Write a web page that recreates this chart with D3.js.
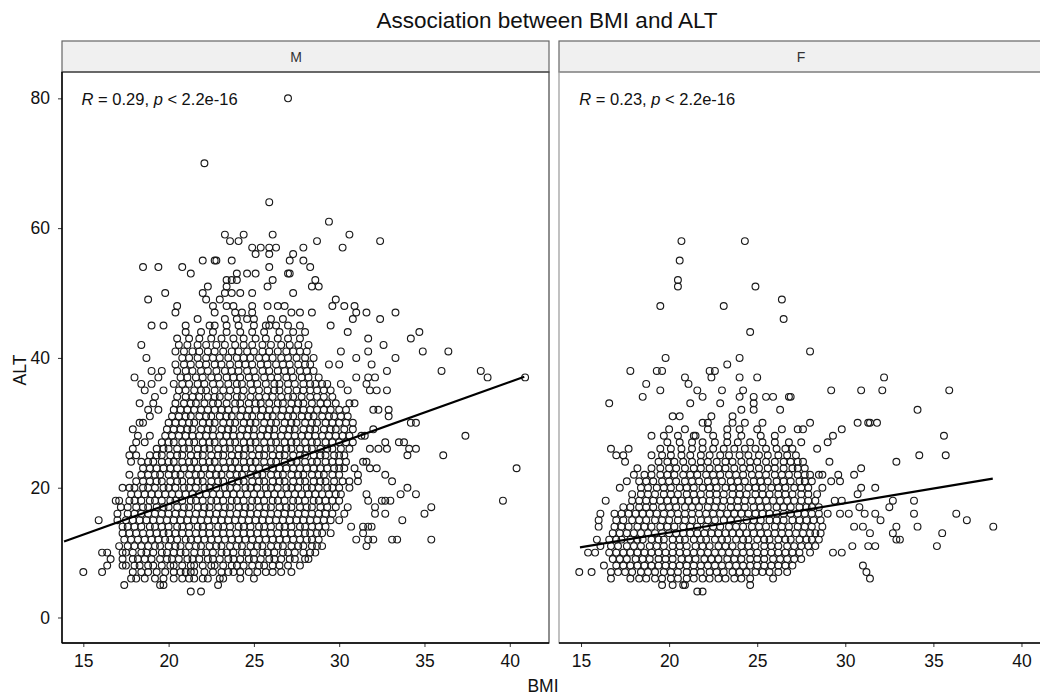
<!DOCTYPE html>
<html>
<head>
<meta charset="utf-8">
<script src="https://cdn.jsdelivr.net/npm/d3@7"></script>
<style>
  body { margin: 0; background: #fff; }
  svg { display: block; font-family: "Liberation Sans", Arial, sans-serif; }
</style>
</head>
<body>
<svg id="chart" width="1040" height="697"></svg>
<script>
// facets, ticks and fitted lines
const panels = ['M', 'F'];
const corrR = ['0.29', '0.23'];
const corrP = ['2.2e-16', '2.2e-16'];
const xTicks = [15, 20, 25, 30, 35, 40];
const yTicks = [0, 20, 40, 60, 80];
// regression line end points [bmi, alt]
const fitM = [[13.87, 11.7], [40.85, 37.1]];
const fitF = [[14.94, 10.8], [38.37, 21.4]];

// points: [ALT, "BMI values on that ALT row"]
const maleRows = [
  [4, "21.3 21.9"],
  [5, "17.4 19.5 19.7 22.9"],
  [6, "17.8 18.1 18.6 19.2 19.7 20.3 20.8 21.2 21.5 22.0 22.3 23.0 23.2 24.2 25.0"],
  [7, "15.0 16.1 17.9 18.4 18.8 19.3 19.8 20.3 20.7 21.0 21.3 21.5 22.1 22.6 23.1 23.5 23.8 24.2 24.7 25.2 25.7 26.1 26.6 27.2"],
  [8, "16.4 17.3 17.5 18.0 18.3 18.8 19.1 19.6 20.1 20.3 20.8 21.3 21.5 22.0 22.5 22.7 23.2 23.7 24.0 24.4 24.9 25.3 25.6 26.1 26.5 27.0 27.7"],
  [9, "16.6 17.3 17.9 18.2 18.6 19.0 19.5 19.9 20.2 20.6 21.1 21.4 21.8 22.3 22.6 23.0 23.5 23.8 24.2 24.7 25.0 25.4 25.9 26.2 26.6 27.1 27.4 28.0 28.2"],
  [10, "16.1 16.4 17.3 17.5 17.9 18.4 18.7 19.1 19.6 19.9 20.3 20.7 21.0 21.5 21.9 22.2 22.6 23.1 23.4 23.8 24.3 24.6 25.0 25.5 25.8 26.2 26.7 27.0 27.4 27.9 28.3 28.6"],
  [11, "17.1 17.6 18.0 18.4 18.8 19.2 19.5 20.0 20.4 20.7 21.2 21.6 21.9 22.4 22.8 23.1 23.6 24.0 24.3 24.8 25.2 25.5 26.0 26.4 26.7 27.2 27.6 27.9 28.4 28.7 29.0 31.6"],
  [12, "17.4 17.8 18.2 18.6 19.0 19.4 19.8 20.1 20.5 21.0 21.3 21.7 22.1 22.5 22.9 23.3 23.7 24.1 24.5 24.9 25.3 25.7 26.1 26.5 26.9 27.3 27.7 28.1 28.4 28.8 31.0 31.7 32.0 33.1 33.4 35.4"],
  [13, "17.3 17.7 18.1 18.5 18.9 19.3 19.7 20.0 20.4 20.8 21.2 21.6 22.0 22.4 22.8 23.2 23.6 24.0 24.4 24.8 25.2 25.6 26.0 26.4 26.8 27.2 27.6 28.0 28.3 28.7 29.0 29.5 31.4"],
  [14, "17.3 17.6 18.0 18.4 18.9 19.2 19.6 20.0 20.5 20.8 21.2 21.7 22.0 22.4 22.9 23.2 23.6 24.1 24.4 24.8 25.3 25.6 26.0 26.5 26.8 27.2 27.7 28.0 28.4 28.8 29.2 30.7 31.4 31.7 31.9"],
  [15, "15.9 17.0 17.5 17.9 18.3 18.7 19.1 19.5 19.9 20.3 20.7 21.1 21.5 21.9 22.3 22.7 23.1 23.5 23.9 24.3 24.7 25.1 25.5 25.9 26.3 26.7 27.1 27.5 27.9 28.3 28.7 29.1 29.5 30.0 33.7"],
  [16, "17.0 17.6 18.0 18.4 18.8 19.2 19.6 20.0 20.4 20.8 21.2 21.6 22.0 22.4 22.8 23.2 23.6 24.0 24.4 24.8 25.2 25.6 26.0 26.4 26.8 27.2 27.6 28.0 28.4 28.8 29.2 29.6 30.3 32.1 32.7 35.0"],
  [17, "17.2 17.6 18.1 18.5 18.8 19.3 19.7 20.0 20.5 20.9 21.2 21.7 22.1 22.4 22.9 23.3 23.6 24.1 24.5 24.8 25.3 25.7 26.0 26.5 26.9 27.2 27.7 28.1 28.4 28.9 29.3 29.8 30.5 32.1 35.4"],
  [18, "16.9 17.1 17.7 18.0 18.4 18.9 19.2 19.6 20.1 20.4 20.8 21.3 21.6 22.0 22.5 22.8 23.2 23.7 24.0 24.4 24.9 25.2 25.6 26.1 26.4 26.8 27.3 27.6 28.0 28.5 28.8 29.2 29.6 30.0 31.7 32.5 32.7 33.0 39.6"],
  [19, "17.8 18.2 18.6 19.0 19.4 19.8 20.2 20.6 21.0 21.4 21.8 22.2 22.6 23.0 23.4 23.8 24.2 24.6 25.0 25.4 25.8 26.2 26.6 27.0 27.4 27.8 28.2 28.6 29.0 29.4 29.8 30.1 31.6 33.6 34.5"],
  [20, "17.3 17.7 18.0 18.5 18.8 19.2 19.7 20.0 20.4 20.9 21.2 21.6 22.1 22.4 22.8 23.3 23.6 24.0 24.5 24.8 25.2 25.7 26.0 26.4 26.9 27.2 27.6 28.1 28.4 28.8 29.3 29.6 30.0 30.6 34.0"],
  [21, "18.1 18.5 18.9 19.3 19.6 20.1 20.5 20.8 21.3 21.7 22.0 22.5 22.9 23.2 23.7 24.1 24.4 24.9 25.3 25.6 26.1 26.5 26.8 27.3 27.7 28.0 28.5 28.9 29.2 29.7 30.2 30.6 31.1 33.1"],
  [22, "17.7 18.4 18.8 19.2 19.5 20.0 20.4 20.7 21.2 21.6 21.9 22.4 22.8 23.1 23.6 24.0 24.3 24.8 25.2 25.5 26.0 26.4 26.7 27.2 27.6 27.9 28.4 28.8 29.1 29.6 30.0 31.1 32.7"],
  [23, "18.5 18.9 19.3 19.7 20.1 20.5 20.9 21.3 21.7 22.1 22.5 22.9 23.3 23.7 24.1 24.5 24.9 25.3 25.7 26.1 26.5 26.9 27.3 27.7 28.1 28.5 28.9 29.3 29.7 30.0 30.3 30.9 31.8 32.2 40.4"],
  [24, "17.8 18.4 18.8 19.1 19.6 20.0 20.3 20.8 21.2 21.5 22.0 22.4 22.7 23.2 23.6 23.9 24.4 24.8 25.1 25.6 26.0 26.3 26.8 27.2 27.5 28.0 28.4 28.7 29.2 29.6 30.0 30.4 31.4 31.6"],
  [25, "17.7 18.1 18.9 19.3 19.6 20.1 20.5 20.8 21.3 21.7 22.0 22.5 22.9 23.2 23.7 24.1 24.4 24.9 25.3 25.6 26.1 26.5 26.8 27.3 27.7 28.0 28.5 28.9 29.2 29.7 30.0 30.3 34.0 36.1"],
  [26, "17.9 19.3 19.7 20.0 20.5 20.9 21.2 21.7 22.1 22.4 22.9 23.3 23.6 24.1 24.5 24.8 25.3 25.7 26.0 26.5 26.9 27.2 27.7 28.1 28.4 28.9 29.3 29.6 30.1 30.6 31.8 32.3 32.8 34.1 34.5"],
  [27, "18.1 18.6 19.6 20.0 20.3 20.8 21.2 21.5 22.0 22.4 22.7 23.2 23.6 23.9 24.4 24.8 25.1 25.6 26.0 26.3 26.8 27.2 27.5 28.0 28.4 28.7 29.2 29.6 30.0 30.4 30.8 32.7 33.5 33.8"],
  [28, "18.2 18.9 19.8 20.2 20.6 21.0 21.4 21.8 22.2 22.6 23.0 23.4 23.8 24.2 24.6 25.0 25.4 25.8 26.2 26.6 27.0 27.4 27.8 28.2 28.6 29.0 29.4 29.8 30.2 30.6 31.3 31.5 37.4"],
  [29, "17.9 19.9 20.3 20.7 21.1 21.4 21.9 22.3 22.6 23.1 23.5 23.8 24.3 24.7 25.0 25.5 25.9 26.2 26.7 27.1 27.4 27.9 28.3 28.6 29.1 29.5 29.8 30.3 30.8 32.0"],
  [30, "18.3 18.5 20.0 20.4 20.8 21.2 21.5 22.0 22.4 22.7 23.2 23.6 23.9 24.4 24.8 25.1 25.6 26.0 26.3 26.8 27.2 27.5 28.0 28.4 28.7 29.2 29.6 30.0 30.4 30.8 34.2 34.5"],
  [31, "18.9 20.2 20.6 21.0 21.3 21.8 22.2 22.5 23.0 23.4 23.7 24.2 24.6 24.9 25.4 25.8 26.1 26.6 27.0 27.3 27.8 28.2 28.5 29.0 29.4 29.7 30.1 30.5 32.9"],
  [32, "18.8 19.4 20.3 20.7 21.1 21.5 21.9 22.3 22.7 23.1 23.5 23.9 24.3 24.7 25.1 25.5 25.9 26.3 26.7 27.1 27.5 27.9 28.3 28.7 29.1 29.5 30.0 30.4 32.0 32.3 32.9"],
  [33, "18.3 19.1 20.4 20.9 21.3 21.6 22.1 22.6 22.9 23.4 23.9 24.2 24.7 25.1 25.4 25.9 26.4 26.7 27.2 27.6 27.9 28.4 28.9 29.3 29.8 30.6 30.9"],
  [34, "19.2 20.5 21.0 21.4 21.8 22.3 22.7 23.0 23.5 24.0 24.3 24.8 25.3 25.7 26.1 26.6 27.0 27.3 27.8 28.3 28.7 29.1 29.6"],
  [35, "18.6 19.7 20.6 21.0 21.5 21.9 22.2 22.7 23.2 23.6 24.0 24.4 24.9 25.3 25.8 26.2 26.5 27.0 27.5 27.9 28.3 28.7 29.1 29.5 30.5 31.8 32.2 32.8"],
  [36, "18.4 19.0 20.3 20.8 21.2 21.7 22.1 22.6 23.0 23.5 24.0 24.3 24.8 25.2 25.7 26.2 26.5 27.0 27.4 27.9 28.3 28.6 29.0 29.3 30.1 31.6"],
  [37, "18.0 19.4 20.7 21.1 21.6 22.0 22.5 22.9 23.4 23.8 24.2 24.7 25.1 25.6 26.0 26.4 26.9 27.3 27.8 28.2 28.8 31.0 31.7 32.1 38.7 40.9"],
  [38, "19.0 19.6 20.5 21.0 21.4 21.9 22.3 22.8 23.3 23.7 24.1 24.6 25.0 25.5 25.9 26.4 26.8 27.2 27.7 28.1 28.5 32.8 36.0 38.3"],
  [39, "20.4 20.9 21.3 21.8 22.2 22.7 23.1 23.6 24.1 24.5 24.9 25.4 25.8 26.3 26.7 27.1 27.6 28.0 28.3 29.4 30.0 31.9"],
  [40, "18.7 20.8 21.2 21.7 22.2 22.6 23.0 23.5 24.0 24.4 24.8 25.3 25.7 26.1 26.6 27.0 27.5 28.0 28.5 31.0 33.3"],
  [41, "20.4 20.9 21.4 21.8 22.3 22.7 23.2 23.7 24.1 24.6 25.0 25.5 25.9 26.4 26.9 27.3 27.7 28.1 30.1 31.7 34.9 36.4"],
  [42, "18.4 20.6 21.1 21.7 22.2 22.8 23.3 23.9 24.4 24.9 25.5 26.0 26.6 27.1 27.6 28.2 32.6"],
  [43, "20.5 21.2 21.8 22.5 23.1 23.8 24.4 25.1 25.7 26.4 27.0 27.7 31.7 34.2"],
  [44, "21.0 21.9 22.6 23.4 24.2 24.9 25.6 26.5 27.3 28.0 30.5 34.7"],
  [45, "19.0 19.7 21.0 22.4 22.7 23.4 24.1 25.0 25.7 25.9 26.3 27.0 27.7 29.5"],
  [46, "21.7 23.3 24.0 24.6 25.0 26.0 26.7 30.8 32.4"],
  [47, "20.4 22.7 23.9 24.3 24.9 27.2 27.7 28.4 31.0 31.6 33.3"],
  [48, "20.5 22.6 23.4 23.8 24.9 25.8 26.4 26.8 29.6 30.3 30.9"],
  [49, "18.8 22.2 23.0 29.8"],
  [50, "19.8 22.0 23.3 23.7 24.2 24.9 27.3"],
  [51, "22.3 23.4 25.8 28.4 28.8"],
  [52, "23.4 23.7 24.0 26.1 28.6"],
  [53, "21.3 24.0 24.6 25.1 27.0 27.1"],
  [54, "18.5 19.4 20.8 25.9 28.3"],
  [55, "22.0 22.7 22.8 23.7 27.1 27.9"],
  [56, "25.1 25.9 27.3"],
  [57, "24.9 25.4 25.9 26.3 27.9 30.2"],
  [58, "23.6 24.1 28.7 32.4"],
  [59, "23.3 24.4 26.1 30.6"],
  [61, "29.4"],
  [64, "25.9"],
  [70, "22.1"],
  [80, "27.0"]
];

const femaleRows = [
  [4, "21.6 21.9"],
  [5, "19.6 20.2 20.8 20.9 24.6"],
  [6, "16.7 17.8 18.3 18.7 19.2 19.6 20.1 20.5 21.0 21.4 21.9 22.3 22.8 23.2 23.7 24.1 24.6 25.9 31.4"],
  [7, "14.9 15.6 16.7 17.1 17.5 17.9 18.4 18.8 19.2 19.7 20.1 20.5 21.0 21.4 21.8 22.3 22.7 23.1 23.6 24.0 24.4 24.9 25.3 25.7 26.2 26.7 31.2"],
  [8, "16.3 17.0 17.4 17.8 18.2 18.6 19.0 19.4 19.8 20.2 20.6 21.0 21.4 21.8 22.2 22.6 23.0 23.4 23.8 24.2 24.6 25.0 25.4 25.8 26.2 26.6 27.0 31.0"],
  [9, "16.8 17.2 17.6 18.1 18.5 18.9 19.4 19.8 20.2 20.7 21.1 21.5 22.0 22.4 22.8 23.3 23.7 24.1 24.6 25.0 25.4 25.9 26.3 26.7 27.1 27.5"],
  [10, "15.4 15.8 16.6 17.0 17.4 17.8 18.2 18.6 19.0 19.4 19.8 20.2 20.6 21.0 21.4 21.8 22.2 22.6 23.0 23.4 23.8 24.2 24.6 25.0 25.4 25.8 26.2 26.6 27.0 27.4 28.0 29.3 29.8"],
  [11, "16.1 16.7 17.1 17.6 18.0 18.4 18.9 19.3 19.7 20.2 20.6 21.0 21.5 21.9 22.3 22.8 23.2 23.6 24.1 24.5 24.9 25.4 25.8 26.2 26.7 27.1 27.5 27.9 28.3 30.4 31.3 31.7 35.2"],
  [12, "15.9 16.6 17.0 17.3 17.8 18.2 18.5 19.0 19.4 19.7 20.2 20.6 20.9 21.4 21.8 22.1 22.6 23.0 23.3 23.8 24.2 24.5 25.0 25.4 25.7 26.2 26.6 26.9 27.4 27.8 28.1 28.5 32.9 33.1"],
  [13, "16.8 17.2 17.6 18.0 18.4 18.8 19.2 19.6 20.0 20.4 20.8 21.2 21.6 22.0 22.4 22.8 23.2 23.6 24.0 24.4 24.8 25.2 25.6 26.0 26.4 26.8 27.2 27.6 28.0 28.3 28.6 31.4 32.7 35.5"],
  [14, "16.0 16.9 17.3 17.7 18.2 18.6 19.0 19.5 19.9 20.3 20.8 21.2 21.6 22.1 22.5 22.9 23.4 23.8 24.2 24.7 25.1 25.5 26.0 26.4 26.8 27.3 27.7 28.1 28.7 30.5 31.0 32.9 34.1 38.4"],
  [15, "16.0 17.0 17.4 17.9 18.3 18.7 19.2 19.6 20.0 20.5 20.9 21.3 21.8 22.2 22.6 23.1 23.5 23.9 24.4 24.8 25.2 25.7 26.1 26.5 27.0 27.4 27.8 28.2 28.6 32.0 36.9"],
  [16, "16.1 16.9 17.3 17.7 18.1 18.5 18.9 19.3 19.7 20.1 20.5 20.9 21.3 21.7 22.1 22.5 22.9 23.3 23.7 24.1 24.5 24.9 25.3 25.7 26.1 26.5 26.9 27.3 27.7 28.1 28.5 29.0 29.7 30.2 31.1 31.7 33.9 36.3"],
  [17, "17.4 17.8 18.3 18.7 19.1 19.6 20.0 20.4 20.9 21.3 21.7 22.2 22.6 23.0 23.5 23.9 24.3 24.8 25.2 25.6 26.1 26.5 26.9 27.4 27.8 28.1 28.5 30.8 32.5"],
  [18, "16.4 17.9 18.3 18.7 19.1 19.5 19.9 20.3 20.7 21.1 21.5 21.9 22.3 22.7 23.1 23.5 23.9 24.3 24.7 25.1 25.5 25.9 26.3 26.7 27.1 27.5 27.9 28.3 29.4 29.8 32.7 33.9"],
  [19, "17.9 18.4 18.8 19.2 19.7 20.1 20.5 21.0 21.4 21.8 22.3 22.7 23.1 23.6 24.0 24.4 24.9 25.3 25.7 26.2 26.6 27.0 27.5 27.9 28.4 30.7"],
  [20, "17.2 18.4 18.8 19.3 19.7 20.1 20.6 21.0 21.4 21.9 22.3 22.7 23.2 23.6 24.0 24.5 24.9 25.3 25.8 26.2 26.6 27.1 27.5 27.9 28.7 30.9 31.7"],
  [21, "17.6 18.3 18.7 19.1 19.6 20.0 20.4 20.9 21.3 21.7 22.2 22.6 23.0 23.5 23.9 24.3 24.8 25.2 25.6 26.1 26.5 26.9 27.4 27.7 28.1 29.2 29.7"],
  [22, "18.0 18.6 19.0 19.5 19.9 20.3 20.8 21.2 21.6 22.1 22.5 22.9 23.4 23.8 24.2 24.7 25.1 25.5 26.0 26.4 26.8 27.3 27.7 28.0 28.5 28.7 29.6 30.5"],
  [23, "18.2 19.0 19.5 20.0 20.4 20.9 21.4 21.8 22.3 22.8 23.2 23.7 24.2 24.6 25.1 25.6 26.0 26.5 27.0 27.3 27.7 30.9"],
  [24, "17.5 19.4 19.9 20.3 20.8 21.3 21.8 22.2 22.7 23.2 23.6 24.1 24.6 25.0 25.5 26.0 26.5 26.9 27.3 27.6 29.1 32.9"],
  [25, "17.0 17.4 19.0 19.6 20.1 20.7 21.2 21.8 22.3 22.9 23.4 24.0 24.5 25.1 25.6 26.2 26.7 27.2 34.2 35.7"],
  [26, "16.7 17.7 19.5 20.1 20.7 21.3 21.9 22.5 23.1 23.7 24.3 24.9 25.5 26.1 26.6 27.0 28.4"],
  [27, "19.9 20.6 21.3 21.9 22.6 23.3 23.9 24.6 25.3 26.0 26.8 27.5 29.0"],
  [28, "19.0 19.7 20.5 21.4 21.5 22.5 23.3 24.1 25.2 26.0 29.3 35.6"],
  [29, "20.0 20.9 22.2 23.3 24.0 25.0 26.4 27.3 27.6 29.8"],
  [30, "21.9 22.2 23.6 24.3 25.3 28.0 30.7 31.3 31.4 31.8"],
  [31, "20.2 20.6 22.4 23.6"],
  [32, "24.1 24.8 26.3 34.1"],
  [33, "16.6 21.2 22.9 24.8"],
  [34, "18.5 21.9 24.0 24.8 25.5 25.9 26.8 26.9"],
  [35, "19.5 21.6 23.0 24.2 29.2 30.9 32.1 35.9"],
  [36, "18.7 21.1"],
  [37, "20.9 22.4 24.0 25.0 32.2"],
  [38, "17.8 19.3 19.6 22.3 22.6"],
  [39, "23.3"],
  [40, "19.8 24.0"],
  [41, "28.0"],
  [44, "24.6"],
  [46, "26.5"],
  [48, "19.5 23.1"],
  [49, "26.4"],
  [51, "20.5 24.9"],
  [52, "20.5"],
  [55, "20.6"],
  [58, "20.7 24.3"]
];

const parseRows = rows => rows.flatMap(([alt, s]) => s.split(' ').map(b => ({ bmi: +b, alt })));
const pointsByPanel = { M: parseRows(maleRows), F: parseRows(femaleRows) };
const fitByPanel = { M: fitM, F: fitF };

// layout (pixels)
const stripTop = 41, panelTop = 72, panelBottom = 643;
const panelX = { M: [62, 549], F: [559, 1062] };
const stripLabelX = { M: 296, F: 801 };
const xDomain = [13.75, 42.3];

const svg = d3.select('#chart');

const y = d3.scaleLinear().domain([-3.93, 84.06]).range([panelBottom, panelTop]);

svg.append('text')
    .attr('x', 547)
    .attr('y', 28)
    .attr('text-anchor', 'middle')
    .attr('font-size', 22.5)
    .attr('fill', '#111')
    .text('Association between BMI and ALT');

panels.forEach((key, i) => {
    const [x0, x1] = panelX[key];
    const x = d3.scaleLinear().domain(xDomain).range([x0, x1]);
    const g = svg.append('g');

    g.append('clipPath').attr('id', `clip-${key}`)
        .append('rect')
        .attr('x', x0).attr('y', panelTop)
        .attr('width', x1 - x0).attr('height', panelBottom - panelTop);

    // strip
    g.append('rect')
        .attr('x', x0).attr('y', stripTop)
        .attr('width', x1 - x0).attr('height', panelTop - stripTop)
        .attr('fill', '#f0f0f0')
        .attr('stroke', '#666')
        .attr('stroke-width', 1.2);
    g.append('text')
        .attr('x', stripLabelX[key])
        .attr('y', (stripTop + panelTop) / 2)
        .attr('dy', '0.36em')
        .attr('text-anchor', 'middle')
        .attr('font-size', 14)
        .attr('fill', '#333')
        .text(key);

    // points
    g.append('g')
        .attr('clip-path', `url(#clip-${key})`)
        .selectAll('circle')
        .data(pointsByPanel[key])
        .enter()
        .append('circle')
        .attr('cx', d => x(d.bmi))
        .attr('cy', d => y(d.alt))
        .attr('r', 3.4)
        .attr('fill', 'none')
        .attr('stroke', '#1a1a1a')
        .attr('stroke-width', 1.15);

    // fitted line
    g.append('path')
        .datum(fitByPanel[key])
        .attr('clip-path', `url(#clip-${key})`)
        .attr('d', d3.line().x(d => x(d[0])).y(d => y(d[1])))
        .attr('fill', 'none')
        .attr('stroke', '#000')
        .attr('stroke-width', 2.2);

    // panel border
    g.append('rect')
        .attr('x', x0).attr('y', panelTop)
        .attr('width', x1 - x0).attr('height', panelBottom - panelTop)
        .attr('fill', 'none')
        .attr('stroke', i === 0 ? '#444' : '#999')
        .attr('stroke-width', 1.2);

    // correlation label
    const lab = g.append('text')
        .attr('x', x(14.9))
        .attr('y', 105)
        .attr('font-size', 16.5)
        .attr('fill', '#111');
    lab.append('tspan').attr('font-style', 'italic').text('R');
    lab.append('tspan').text(` = ${corrR[i]}, `);
    lab.append('tspan').attr('font-style', 'italic').text('p');
    lab.append('tspan').text(` < ${corrP[i]}`);

    // x axis
    const xAxis = g.append('g')
        .attr('transform', `translate(0,${panelBottom})`)
        .call(d3.axisBottom(x).tickValues(xTicks).tickSize(4).tickPadding(8));
    xAxis.select('.domain').remove();
    xAxis.selectAll('line').attr('stroke', '#333');
    xAxis.selectAll('text').attr('font-size', 17.5).attr('fill', '#111')
        .attr('font-family', '"Liberation Sans", Arial, sans-serif');
    g.append('line')
        .attr('x1', x0).attr('x2', x1)
        .attr('y1', panelBottom).attr('y2', panelBottom)
        .attr('stroke', '#000').attr('stroke-width', 1.6);

    if (i === 0) {
        const yAxis = g.append('g')
            .attr('transform', `translate(${x0},0)`)
            .call(d3.axisLeft(y).tickValues(yTicks).tickSize(4).tickPadding(8));
        yAxis.select('.domain').remove();
        yAxis.selectAll('line').attr('stroke', '#333');
        yAxis.selectAll('text').attr('font-size', 17.5).attr('fill', '#111')
            .attr('font-family', '"Liberation Sans", Arial, sans-serif');
        g.append('line')
            .attr('x1', x0).attr('x2', x0)
            .attr('y1', panelTop).attr('y2', panelBottom)
            .attr('stroke', '#000').attr('stroke-width', 1.4);
    }
});

// axis titles
svg.append('text')
    .attr('x', 543)
    .attr('y', 692)
    .attr('text-anchor', 'middle')
    .attr('font-size', 17.5)
    .attr('fill', '#111')
    .text('BMI');
svg.append('text')
    .attr('transform', 'translate(26,370) rotate(-90)')
    .attr('text-anchor', 'middle')
    .attr('font-size', 17.5)
    .attr('fill', '#111')
    .text('ALT');
</script>
</body>
</html>
